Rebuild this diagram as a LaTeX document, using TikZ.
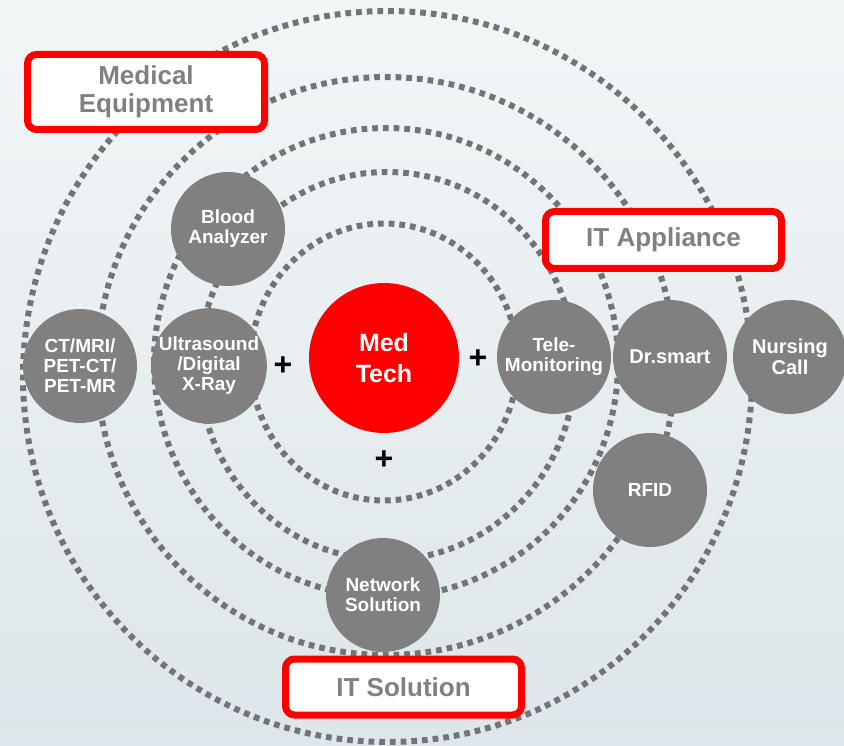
\documentclass[tikz,border=0pt]{standalone}
\usepackage{fontspec}
\setmainfont{Liberation Sans}
\definecolor{nodegray}{RGB}{128,128,128}
\definecolor{dotgray}{RGB}{114,116,119}
\definecolor{mred}{RGB}{255,0,0}
\definecolor{bgtop}{RGB}{242,246,247}
\definecolor{bgbot}{RGB}{221,230,234}
\begin{document}
\begin{tikzpicture}[x=1pt,y=-1pt,
  orbit/.style={draw=dotgray, line width=6pt, dash pattern=on 5.7pt off 5pt},
  item/.style={circle, fill=nodegray, minimum size=114pt, inner sep=0pt, text=white,
    font=\fontsize{19}{20}\selectfont\bfseries, align=center},
  core/.style={circle, fill=mred, minimum size=150pt, inner sep=0pt, text=white,
    font=\fontsize{25}{31}\selectfont\bfseries, align=center},
  tagbox/.style={draw=mred, line width=7pt, fill=white, rounded corners=9pt, text=nodegray,
    font=\fontsize{26}{28}\selectfont\bfseries, align=center, inner sep=0pt},
  plussign/.style={font=\fontsize{32}{32}\selectfont\bfseries, text=black, inner sep=0pt}]
\useasboundingbox (0,0) rectangle (844,746);
\shade[top color=bgtop, bottom color=bgbot] (0,0) rectangle (844,746);
% orbits
\draw[orbit] (384,362) ellipse [x radius=133.5pt, y radius=138.5pt];
\draw[orbit] (387,366) ellipse [x radius=188pt, y radius=194pt];
\draw[orbit] (386,362.5) ellipse [x radius=232pt, y radius=234.5pt];
\draw[orbit] (386,366) ellipse [x radius=289pt, y radius=289pt];
\draw[orbit] (387.5,376.5) ellipse [x radius=364.5pt, y radius=365.5pt];
% nodes
\node[core] (med) at (384,358) {Med\\Tech};
\node[item] (blood) at (228,229) {Blood\\Analyzer};
\node[item] (ct) at (80,366) {CT/MRI/\\PET-CT/\\PET-MR};
\node[item] (us) at (209,366) {Ultrasound\\/Digital\\X-Ray};
\node[item] (tele) at (554,357) {Tele-\\Monitoring};
\node[item, font=\fontsize{20}{21}\selectfont\bfseries] (dr) at (670,357) {Dr.smart};
\node[item, font=\fontsize{20}{21}\selectfont\bfseries] (nurse) at (790,357) {Nursing\\Call};
\node[item] (rfid) at (650,490) {RFID};
\node[item] (net) at (383,595) {Network\\Solution};
% plus signs
\node[plussign] (p1) at (283,366) {+};
\node[plussign] (p2) at (478,359) {+};
\node[plussign] (p3) at (384,460) {+};
% tag boxes
\node[tagbox, minimum width=237pt, minimum height=75pt] (me) at (146,92) {Medical\\Equipment};
\node[tagbox, minimum width=236pt, minimum height=57pt] (ita) at (663.5,240) {IT Appliance};
\node[tagbox, minimum width=236pt, minimum height=56pt] (its) at (403.5,687) {IT Solution};
\end{tikzpicture}
\end{document}
